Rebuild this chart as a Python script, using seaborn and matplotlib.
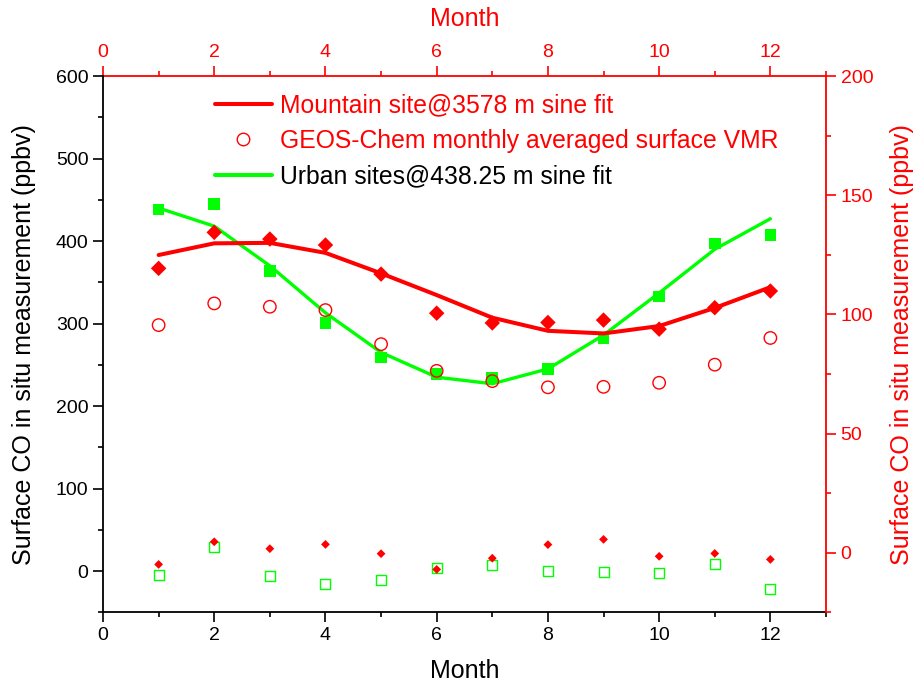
import numpy as np
import matplotlib
matplotlib.use("Agg")
import matplotlib.pyplot as plt
from matplotlib.lines import Line2D
from matplotlib.ticker import MultipleLocator
import seaborn as sns

# monthly values
months = [1, 2, 3, 4, 5, 6, 7, 8, 9, 10, 11, 12]

# urban sites (left axis, ppbv)
urban_obs = [438, 445, 364, 301, 259, 239, 234, 245, 282, 333, 397, 407]
urban_fit = [440, 418, 370, 313, 265, 235, 227, 245, 286, 337, 390, 427]
urban_resid = [-4.2, 29.7, -6.3, -15.2, -11.2, 3.9, 7.0, 0.6, -0.6, -2.7, 8.7, -21.2]

# mountain site + GEOS-Chem (right axis, ppbv)
mountain_obs = [119.3, 134.4, 131.6, 129.1, 116.9, 100.5, 96.4, 96.6, 97.6, 93.8, 102.8, 109.8]
mountain_fit = [124.9, 129.8, 130.0, 125.8, 117.2, 108.1, 98.6, 93.1, 92.0, 95.1, 102.7, 111.4]
mountain_resid = [-4.9, 4.6, 1.7, 3.5, -0.4, -7.0, -2.3, 3.4, 5.6, -1.5, -0.3, -2.8]
geos_chem = [95.5, 104.6, 103.2, 101.8, 87.5, 76.3, 72.0, 69.4, 69.6, 71.3, 78.9, 90.1]

legend_labels = ["Mountain site@3578 m sine fit",
                 "GEOS-Chem monthly averaged surface VMR",
                 "Urban sites@438.25 m sine fit"]

RED = "#ff0000"
GREEN = "#00ff00"

sns.set_style("ticks")
plt.rcParams["font.family"] = ["Liberation Sans", "DejaVu Sans"]
plt.rcParams["xtick.direction"] = "out"
plt.rcParams["ytick.direction"] = "out"
plt.rcParams["text.color"] = "black"
plt.rcParams["axes.labelcolor"] = "black"
plt.rcParams["xtick.color"] = "black"
plt.rcParams["ytick.color"] = "black"

fig = plt.figure(figsize=(9.14, 6.86), dpi=100)
ax = fig.add_axes([0.1127, 0.1074, 0.7910, 0.7818])
ax2 = ax.twinx()

# left axis: urban
sns.lineplot(x=months, y=urban_fit, ax=ax, color=GREEN, linewidth=2.4, legend=False)
sns.scatterplot(x=months, y=urban_obs, ax=ax, marker="s", s=70, color=GREEN,
                edgecolor="none", legend=False, zorder=3)
sns.scatterplot(x=months, y=urban_resid, ax=ax, marker="s", s=52, facecolor="none",
                edgecolor=GREEN, linewidth=1.0, legend=False, zorder=3)

# right axis: mountain + model
sns.lineplot(x=months, y=mountain_fit, ax=ax2, color=RED, linewidth=2.9, legend=False)
sns.scatterplot(x=months, y=mountain_obs, ax=ax2, marker="D", s=62, color=RED,
                edgecolor="none", legend=False, zorder=3)
sns.scatterplot(x=months, y=geos_chem, ax=ax2, marker="o", s=80, facecolor="none",
                edgecolor=RED, linewidth=1.0, legend=False, zorder=3)
sns.scatterplot(x=months, y=mountain_resid, ax=ax2, marker="D", s=20, color=RED,
                edgecolor="none", legend=False, zorder=3)

ax.set_xlim(0, 13)
ax.set_ylim(-50, 600)
ax2.set_ylim(-25, 200)

ax.xaxis.set_major_locator(MultipleLocator(2))
ax.xaxis.set_minor_locator(MultipleLocator(1))
ax.yaxis.set_major_locator(MultipleLocator(100))
ax.yaxis.set_minor_locator(MultipleLocator(50))
ax2.yaxis.set_major_locator(MultipleLocator(50))
ax2.yaxis.set_minor_locator(MultipleLocator(25))

tick_fs = 14
label_fs = 18
for a in (ax, ax2):
    a.tick_params(which="major", length=7, width=1.2, labelsize=tick_fs)
    a.tick_params(which="minor", length=3.5, width=1.2)

ax.tick_params(axis="y", which="both", right=False)
ax.tick_params(axis="x", which="both", top=False)
ax2.tick_params(axis="y", which="both", colors=RED)

for sp in ("left", "bottom"):
    ax.spines[sp].set_linewidth(1.3)
    ax.spines[sp].set_color("black")
ax.spines["top"].set_visible(False)
ax.spines["right"].set_visible(False)
ax2.spines["top"].set_visible(False)
ax2.spines["left"].set_visible(False)
ax2.spines["bottom"].set_visible(False)
ax2.spines["right"].set_color(RED)
ax2.spines["right"].set_linewidth(1.3)

ax.set_xlabel("Month", fontsize=label_fs, labelpad=11)
ax.set_ylabel("Surface CO in situ measurement (ppbv)", fontsize=label_fs, labelpad=14)
ax2.set_ylabel("Surface CO in situ measurement (ppbv)", fontsize=label_fs, color=RED,
               labelpad=12)

# top month axis in red
top = ax.secondary_xaxis("top")
top.xaxis.set_major_locator(MultipleLocator(2))
top.xaxis.set_minor_locator(MultipleLocator(1))
top.tick_params(which="major", length=7, width=1.2, labelsize=tick_fs, colors=RED)
top.tick_params(which="minor", length=3.5, width=1.2, colors=RED)
top.spines["top"].set_color(RED)
top.spines["top"].set_linewidth(1.3)
top.set_xlabel("Month", fontsize=label_fs, color=RED, labelpad=13)

handles = [
    Line2D([], [], color=RED, linewidth=2.9),
    Line2D([], [], color=RED, marker="o", markerfacecolor="none", markersize=9,
           linestyle="none", markeredgewidth=1.0),
    Line2D([], [], color=GREEN, linewidth=2.9),
]
leg = ax2.legend(handles, legend_labels, loc="upper left", bbox_to_anchor=(0.155, 0.968),
                 frameon=False, fontsize=17.8, handlelength=2.3, handletextpad=0.34,
                 labelspacing=0.47, borderpad=0, borderaxespad=0)
for txt, c in zip(leg.get_texts(), [RED, RED, "black"]):
    txt.set_color(c)

fig.savefig("out.png", dpi=100)
